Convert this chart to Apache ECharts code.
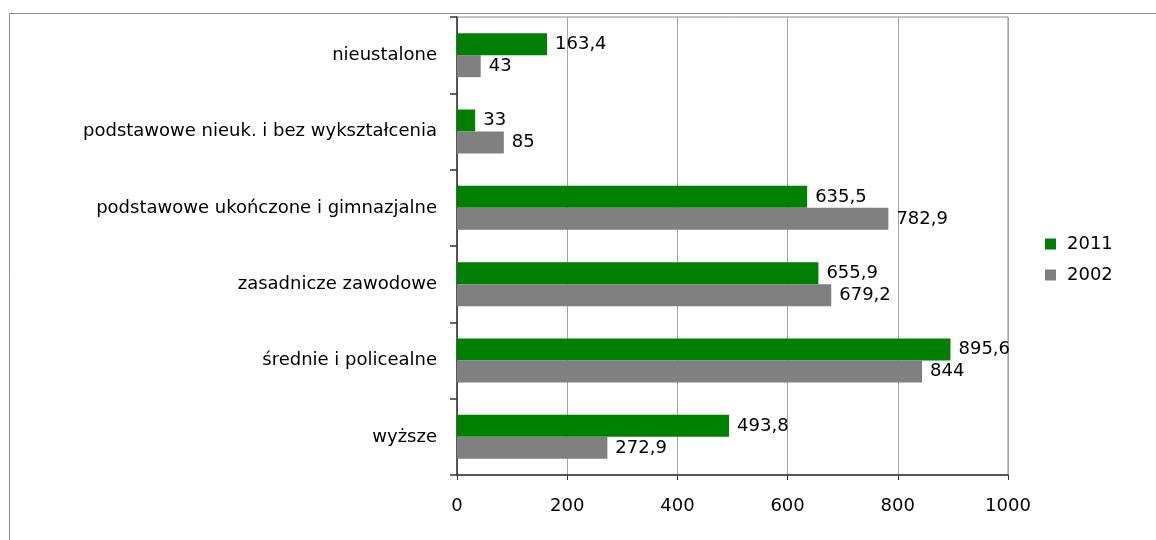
<!DOCTYPE html>
<html>
<head>
<meta charset="utf-8">
<script src="https://cdn.jsdelivr.net/npm/echarts@6/dist/echarts.min.js"></script>
<style>html,body{margin:0;padding:0;background:#fff;}#c{width:1156px;height:540px;}</style>
</head>
<body>
<div id="c"></div>
<script>
const categories = ['nieustalone','podstawowe nieuk. i bez wykształcenia','podstawowe ukończone i gimnazjalne','zasadnicze zawodowe','średnie i policealne','wyższe'];
const values2011 = [163.4, 33, 635.5, 655.9, 895.6, 493.8];
const values2002 = [43, 85, 782.9, 679.2, 844, 272.9];
const seriesNames = ['2011','2002'];
const xTicks = [0, 200, 400, 600, 800, 1000];

const FONT = 'DejaVu Sans';
const FS = 18;
const chart = echarts.init(document.getElementById('c'), null, {renderer:'canvas'});
const fmt = p => String(p.value).replace('.', ',');
chart.setOption({
  animation:false,
  textStyle:{fontFamily:FONT},
  graphic:[{type:'rect', shape:{x:9.5,y:13.5,width:1300,height:700}, style:{fill:'none',stroke:'#8a8a8a',lineWidth:1}, z:-1}],
  grid:{left:457, right:148, top:17, bottom:65, show:true, borderColor:'#8a8a8a', borderWidth:1},
  legend:{orient:'vertical', left:1040, top:230, itemWidth:11, itemHeight:11, itemGap:13, icon:'rect',
    textStyle:{fontFamily:FONT, fontSize:FS, color:'#000', padding:[0,0,0,6]}, data:seriesNames},
  xAxis:{type:'value', min:xTicks[0], max:xTicks[xTicks.length-1], interval:200,
    axisLine:{show:true, lineStyle:{color:'#333', width:1.5}},
    axisTick:{show:true, length:5, lineStyle:{color:'#333'}},
    axisLabel:{fontFamily:FONT, fontSize:FS, color:'#000', margin:22, formatter: v => String(v)},
    splitLine:{show:true, lineStyle:{color:'#a6a6a6', width:1}}},
  yAxis:{type:'category', data:categories, inverse:true,
    axisLine:{show:true, lineStyle:{color:'#333', width:1.5}},
    axisTick:{show:true, length:7, lineStyle:{color:'#333', width:1.5}},
    axisLabel:{fontFamily:FONT, fontSize:FS, color:'#000', margin:20}},
  series:[
    {name:seriesNames[0], type:'bar', data:values2011, barWidth:22, barGap:'0%', itemStyle:{color:'#008000'},
      label:{show:true, position:'right', distance:8, formatter:fmt, fontFamily:FONT, fontSize:FS, color:'#000'}},
    {name:seriesNames[1], type:'bar', data:values2002, barWidth:22, barGap:'0%', itemStyle:{color:'#808080'},
      label:{show:true, position:'right', distance:8, formatter:fmt, fontFamily:FONT, fontSize:FS, color:'#000'}}
  ]
});
</script>
</body>
</html>
